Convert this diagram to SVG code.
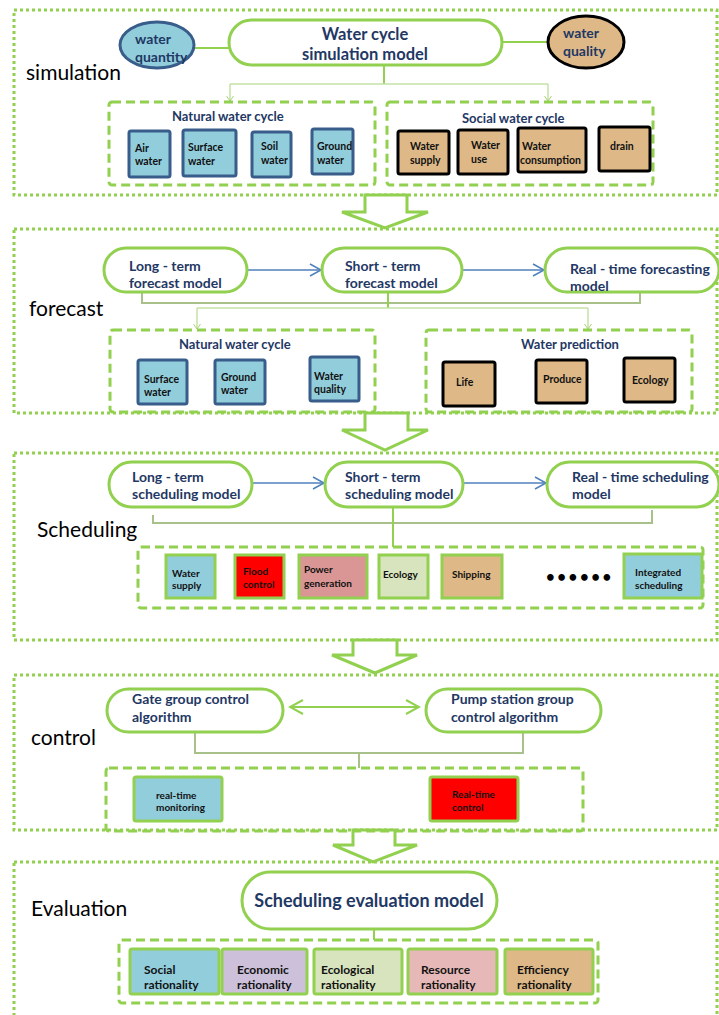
<svg xmlns="http://www.w3.org/2000/svg" width="719" height="1015" viewBox="0 0 719 1015">
<defs>
<marker id="blueHead" markerUnits="userSpaceOnUse" markerWidth="14" markerHeight="16" refX="12" refY="7" orient="auto">
<path d="M1,1 L12,7 L1,13" fill="none" stroke="#4F81BD" stroke-width="1.5"/>
</marker>
<marker id="greenHead" markerUnits="userSpaceOnUse" markerWidth="16" markerHeight="18" refX="14" refY="8" orient="auto-start-reverse">
<path d="M1,1 L14,8 L1,15" fill="none" stroke="#92D050" stroke-width="2"/>
</marker>
<marker id="smallHead" markerUnits="userSpaceOnUse" markerWidth="10" markerHeight="10" refX="6" refY="5" orient="auto">
<path d="M1,1.5 L6,5 L1,8.5" fill="none" stroke="#A9D47A" stroke-width="1"/>
</marker>
</defs>
<style>
text{font-family:Lato,"Liberation Sans",sans-serif}
.sec{fill:none;stroke:#92D050;stroke-width:3;stroke-dasharray:3 3}
.grp{fill:none;stroke:#92D050;stroke-width:3;stroke-dasharray:9 5}
.pill{fill:#fff;stroke:#92D050;stroke-width:3}
.lbl{font-size:21px;fill:#000}
.pt{font-size:14px;font-weight:bold;fill:#1F3864}
.gt{font-size:13px;font-weight:bold;fill:#1F3864}
.bt{font-size:10.5px;font-weight:bold;fill:#111}
.st{font-size:10px;font-weight:bold;fill:#111}
.et{font-size:12px;font-weight:bold;fill:#111}
.nb{fill:#92CDDC;stroke:#385D8A;stroke-width:3}
.sb{fill:#DEB887;stroke:#000;stroke-width:3}
.gb{stroke:#92D050;stroke-width:3}
.blk{fill:#fff;stroke:#92D050;stroke-width:3;stroke-linejoin:miter}
.bl{stroke:#4F81BD;stroke-width:1.5;fill:none}
.gl{stroke:#92D050;stroke-width:2;fill:none}
.ll{stroke:#C5E0A5;stroke-width:1.5;fill:none}
.gg{stroke:#A8C08A;stroke-width:2;fill:none}
</style>

<!-- Section frames -->
<g id="sections">
<rect class="sec" x="14" y="10" width="703" height="185"/>
<rect class="sec" x="14" y="229" width="703" height="184"/>
<rect class="sec" x="14" y="453" width="703" height="187"/>
<rect class="sec" x="14" y="675" width="703" height="155"/>
<rect class="sec" x="14" y="862" width="703" height="160"/>
<text class="lbl" x="26" y="80">simulation</text>
<text class="lbl" x="29" y="316">forecast</text>
<text class="lbl" x="37" y="537">Scheduling</text>
<text class="lbl" x="31" y="745">control</text>
<text class="lbl" x="31" y="916">Evaluation</text>
</g>

<!-- Block arrows between sections -->
<g id="block-arrows">
<path class="blk" d="M365,195 L365,212 L342,212 L385,228 L428,212 L407,212 L407,195 Z"/>
<path class="blk" d="M365,413 L365,430 L342,430 L385,450 L428,430 L408,430 L408,413 Z"/>
<path class="blk" d="M353,640 L353,655 L332,655 L375,673 L417,655 L397,655 L397,640 Z"/>
<path class="blk" d="M353,830 L353,845 L333,845 L373,862 L417,845 L395,845 L395,830 Z"/>
</g>

<!-- Connectors -->
<g id="connectors">
<!-- simulation -->
<line class="gl" x1="195" y1="48" x2="229" y2="48"/>
<line class="gl" x1="502" y1="42" x2="547" y2="42"/>
<line class="gl" x1="384" y1="65" x2="384" y2="84"/>
<line class="ll" x1="230" y1="84" x2="548" y2="84"/>
<line class="ll" x1="230" y1="84" x2="230" y2="101" marker-end="url(#smallHead)"/>
<line class="ll" x1="548" y1="84" x2="548" y2="101" marker-end="url(#smallHead)"/>
<!-- forecast -->
<line class="bl" x1="247" y1="270" x2="321" y2="270" marker-end="url(#blueHead)"/>
<line class="bl" x1="462" y1="270" x2="544" y2="270" marker-end="url(#blueHead)"/>
<polyline class="gg" points="142,292 142,303 640,303 640,290"/>
<line class="gl" x1="388" y1="292" x2="388" y2="308"/>
<line class="ll" x1="197" y1="308" x2="588" y2="308"/>
<line class="ll" x1="197" y1="308" x2="197" y2="329" marker-end="url(#smallHead)"/>
<line class="ll" x1="588" y1="308" x2="588" y2="329" marker-end="url(#smallHead)"/>
<!-- scheduling -->
<line class="bl" x1="252" y1="483" x2="324" y2="483" marker-end="url(#blueHead)"/>
<line class="bl" x1="463" y1="483" x2="546" y2="483" marker-end="url(#blueHead)"/>
<polyline class="gg" points="153,515 153,523 652,523 652,510"/>
<line class="gl" x1="393" y1="507" x2="393" y2="547"/>
<!-- control -->
<line x1="290" y1="707" x2="419" y2="707" stroke="#92D050" stroke-width="2" marker-start="url(#greenHead)" marker-end="url(#greenHead)"/>
<polyline class="gg" points="195,732 195,753 523,753 523,732"/>
<line class="gg" x1="359" y1="753" x2="359" y2="768"/>
<!-- evaluation -->
<line class="gl" x1="374" y1="929" x2="374" y2="940"/>
</g>

<!-- Simulation -->
<g id="water-quantity">
<ellipse class="nb" cx="157" cy="45" rx="37" ry="23"/>
<text class="pt" x="135" y="44">water</text>
<text class="pt" x="135" y="62">quantity</text>
</g>
<g id="water-cycle-model">
<rect class="pill" x="229" y="20" width="273" height="45" rx="22.5"/>
<text x="365" y="40" text-anchor="middle" font-size="16.5" font-weight="bold" fill="#1F3864">Water cycle</text>
<text x="365" y="60" text-anchor="middle" font-size="16.5" font-weight="bold" fill="#1F3864">simulation  model</text>
</g>
<g id="water-quality">
<ellipse cx="586" cy="42" rx="38" ry="26" fill="#DEB887" stroke="#000" stroke-width="3"/>
<text class="pt" x="563" y="38">water</text>
<text class="pt" x="563" y="56">quality</text>
</g>
<g id="natural-cycle-sim">
<rect class="grp" x="109" y="102" width="266" height="83" rx="3"/>
<text class="gt" x="172" y="121">Natural water cycle</text>
</g>
<g id="air-water"><rect class="nb" x="129" y="131" width="41" height="46" rx="2"/><text class="bt" x="135" y="152">Air</text><text class="bt" x="135" y="165">water</text></g>
<g id="surface-water-sim"><rect class="nb" x="183" y="130" width="53" height="46" rx="2"/><text class="bt" x="188" y="151">Surface</text><text class="bt" x="188" y="165">water</text></g>
<g id="soil-water"><rect class="nb" x="252" y="132" width="39" height="45" rx="2"/><text class="bt" x="261" y="150">Soil</text><text class="bt" x="261" y="164">water</text></g>
<g id="ground-water-sim"><rect class="nb" x="312" y="129" width="41" height="45" rx="2"/><text class="bt" x="317" y="150">Ground</text><text class="bt" x="317" y="164">water</text></g>
<g id="social-cycle">
<rect class="grp" x="387" y="102" width="266" height="83" rx="3"/>
<text class="gt" x="462" y="123">Social water cycle</text>
</g>
<g id="water-supply-sim"><rect class="sb" x="398" y="131" width="51" height="43" rx="2"/><text class="bt" x="410" y="150">Water</text><text class="bt" x="410" y="164">supply</text></g>
<g id="water-use"><rect class="sb" x="458" y="130" width="50" height="44" rx="2"/><text class="bt" x="471" y="149">Water</text><text class="bt" x="471" y="163">use</text></g>
<g id="water-consumption"><rect class="sb" x="518" y="128" width="68" height="44" rx="2"/><text class="bt" x="522" y="150">Water</text><text class="bt" x="520" y="164">consumption</text></g>
<g id="drain"><rect class="sb" x="599" y="127" width="51" height="44" rx="2"/><text class="bt" x="610" y="150">drain</text></g>

<!-- Forecast -->
<g id="long-term-forecast"><rect class="pill" x="104" y="248" width="143" height="44" rx="22"/><text class="pt" x="129" y="271">Long - term</text><text class="pt" x="129" y="288">forecast model</text></g>
<g id="short-term-forecast"><rect class="pill" x="322" y="248" width="140" height="44" rx="22"/><text class="pt" x="345" y="271">Short - term</text><text class="pt" x="345" y="288">forecast model</text></g>
<g id="real-time-forecast"><rect class="pill" x="545" y="248" width="174" height="44" rx="22"/><text class="pt" x="570" y="274">Real - time forecasting</text><text class="pt" x="570" y="291">model</text></g>
<g id="natural-cycle-fc">
<rect class="grp" x="110" y="330" width="265" height="82" rx="3"/>
<text class="gt" x="179" y="349">Natural water cycle</text>
</g>
<g id="surface-water-fc"><rect class="nb" x="138" y="360" width="49" height="44" rx="2"/><text class="bt" x="144" y="383">Surface</text><text class="bt" x="144" y="396">water</text></g>
<g id="ground-water-fc"><rect class="nb" x="215" y="360" width="50" height="44" rx="2"/><text class="bt" x="221" y="381">Ground</text><text class="bt" x="221" y="394">water</text></g>
<g id="water-quality-fc"><rect class="nb" x="310" y="357" width="49" height="44" rx="2"/><text class="bt" x="314" y="380">Water</text><text class="bt" x="314" y="393">quality</text></g>
<g id="water-prediction">
<rect class="grp" x="426" y="330" width="266" height="82" rx="3"/>
<text class="gt" x="521" y="349">Water prediction</text>
</g>
<g id="life"><rect class="sb" x="443" y="362" width="52" height="44" rx="2"/><text class="bt" x="456" y="386">Life</text></g>
<g id="produce"><rect class="sb" x="536" y="360" width="51" height="43" rx="2"/><text class="bt" x="543" y="383">Produce</text></g>
<g id="ecology-fc"><rect class="sb" x="624" y="358" width="51" height="44" rx="2"/><text class="bt" x="632" y="384">Ecology</text></g>

<!-- Scheduling -->
<g id="long-term-sched"><rect class="pill" x="109" y="462" width="143" height="45" rx="22.5"/><text class="pt" x="132" y="482">Long - term</text><text class="pt" x="132" y="499">scheduling model</text></g>
<g id="short-term-sched"><rect class="pill" x="325" y="462" width="138" height="45" rx="22.5"/><text class="pt" x="345" y="482">Short - term</text><text class="pt" x="345" y="499">scheduling model</text></g>
<g id="real-time-sched"><rect class="pill" x="547" y="462" width="172" height="45" rx="22.5"/><text class="pt" x="572" y="482">Real - time scheduling</text><text class="pt" x="572" y="499">model</text></g>
<g id="sched-group"><rect class="grp" x="138" y="547" width="565" height="61" rx="3"/></g>
<g id="water-supply-sch"><rect class="gb" fill="#92CDDC" x="166" y="555" width="49" height="43"/><text class="st" x="172" y="577">Water</text><text class="st" x="172" y="589">supply</text></g>
<g id="flood-control"><rect class="gb" fill="#FF0000" x="235" y="555" width="49" height="43"/><text class="st" x="243" y="575">Flood</text><text class="st" x="243" y="588">control</text></g>
<g id="power-generation"><rect class="gb" fill="#D99694" x="299" y="555" width="68" height="43"/><text class="st" x="304" y="573">Power</text><text class="st" x="304" y="587">generation</text></g>
<g id="ecology-sch"><rect class="gb" fill="#D7E4BD" x="379" y="555" width="49" height="43"/><text class="st" x="383" y="578">Ecology</text></g>
<g id="shipping"><rect class="gb" fill="#DEB887" x="442" y="555" width="60" height="43"/><text class="st" x="452" y="578">Shipping</text></g>
<g id="ellipsis"><text x="546" y="582" font-size="15" font-weight="bold" fill="#000" letter-spacing="2.6">••••••</text></g>
<g id="integrated-scheduling"><rect class="gb" fill="#92CDDC" x="624" y="554" width="78" height="44"/><text class="st" x="635" y="576">Integrated</text><text class="st" x="635" y="589">scheduling</text></g>

<!-- Control -->
<g id="gate-group"><rect class="pill" x="107" y="689" width="176" height="43" rx="21.5"/><text class="pt" x="132" y="704">Gate group control</text><text class="pt" x="132" y="722">algorithm</text></g>
<g id="pump-group"><rect class="pill" x="426" y="689" width="175" height="43" rx="21.5"/><text class="pt" x="451" y="704">Pump station group</text><text class="pt" x="451" y="722">control algorithm</text></g>
<g id="control-group"><rect class="grp" x="106" y="768" width="477" height="63" rx="3"/></g>
<g id="rt-monitoring"><rect class="gb" fill="#92CDDC" x="134" y="777" width="88" height="44" rx="2"/><text class="st" x="156" y="799">real-time</text><text class="st" x="156" y="811">monitoring</text></g>
<g id="rt-control"><rect class="gb" fill="#FF0000" x="430" y="777" width="88" height="44" rx="2"/><text class="st" x="452" y="798">Real-time</text><text class="st" x="452" y="811">control</text></g>

<!-- Evaluation -->
<g id="eval-model"><rect class="pill" x="242" y="872" width="255" height="57" rx="28.5"/><text x="369" y="907" text-anchor="middle" font-size="18" font-weight="bold" fill="#1F3864">Scheduling evaluation model</text></g>
<g id="eval-group"><rect class="grp" x="119" y="940" width="479" height="63" rx="3"/></g>
<g id="social-rationality"><rect class="gb" fill="#92CDDC" x="130" y="949" width="89" height="45" rx="2"/><text class="et" x="144" y="974">Social</text><text class="et" x="144" y="989">rationality</text></g>
<g id="economic-rationality"><rect class="gb" fill="#CCC0DA" x="222" y="949" width="85" height="45" rx="2"/><text class="et" x="237" y="974">Economic</text><text class="et" x="237" y="989">rationality</text></g>
<g id="ecological-rationality"><rect class="gb" fill="#D7E4BD" x="314" y="949" width="88" height="45" rx="2"/><text class="et" x="321" y="974">Ecological</text><text class="et" x="321" y="989">rationality</text></g>
<g id="resource-rationality"><rect class="gb" fill="#E6B9B8" x="408" y="949" width="89" height="45" rx="2"/><text class="et" x="421" y="974">Resource</text><text class="et" x="421" y="989">rationality</text></g>
<g id="efficiency-rationality"><rect class="gb" fill="#DEB887" x="505" y="949" width="88" height="45" rx="2"/><text class="et" x="517" y="974">Efficiency</text><text class="et" x="517" y="989">rationality</text></g>
</svg>
